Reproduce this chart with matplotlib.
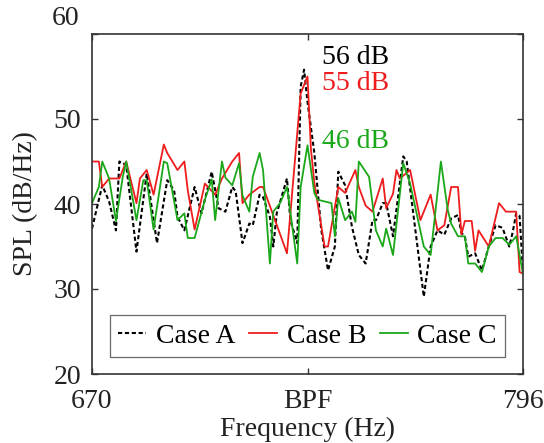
import matplotlib
matplotlib.use('Agg')
import matplotlib.pyplot as plt

# spectra near the blade passing frequency, SPL in dB/Hz
f0 = 670
bpf = 733
f_end = 796

# Case A (baseline)
freq_a = [0, 3, 5, 7, 8, 10, 13, 16, 19, 22, 24, 25, 27, 30, 32, 35, 37, 39, 41, 42,
          44, 46, 47, 49, 50, 52, 53, 54, 57, 58, 60, 61, 62, 63, 65, 67, 69, 71, 72,
          74, 76, 78, 80, 82, 83, 85, 86, 88, 91, 92, 97, 99, 101, 103, 105, 107, 108,
          109, 110, 112, 114, 116, 118, 120, 122, 123, 124, 125, 126]
spl_a = [37.1, 42.2, 40.3, 36.9, 45.0, 44.6, 34.4, 43.6, 35.4, 42.8, 41.6, 38.5, 36.9,
         42.0, 38.9, 43.8, 39.5, 39.1, 42.0, 41.5, 35.4, 37.7, 37.5, 41.1, 40.8, 38.5,
         35.0, 38.9, 43.0, 38.1, 35.4, 53.8, 55.8, 52.0, 46.0, 37.0, 32.2, 35.0, 43.8,
         42.2, 37.3, 34.0, 33.0, 38.1, 38.1, 40.1, 40.1, 36.2, 45.6, 45.0, 29.1, 35.0,
         36.9, 36.4, 38.3, 38.7, 36.6, 36.2, 33.8, 34.2, 32.2, 35.0, 37.5, 37.2, 35.0,
         36.7, 38.9, 38.6, 32.0]

# Case B
freq_b = [0, 2, 3, 5, 8, 10, 13, 14, 16, 18, 21, 22, 25, 27, 28, 30, 33, 36, 38, 41,
          43, 44, 46, 49, 50, 57, 61, 63, 64, 65, 68, 69, 72, 74, 77, 78, 80, 82, 85,
          86, 88, 89, 90, 93, 96, 99, 101, 103, 105, 107, 108, 109, 111, 112, 113, 116,
          119, 121, 124, 125, 126]
spl_b = [45.0, 45.0, 42.0, 43.0, 43.0, 45.0, 40.1, 43.0, 44.0, 41.1, 47.0, 46.0, 44.0,
         45.0, 41.6, 37.0, 42.4, 41.1, 43.0, 45.0, 46.0, 40.1, 41.1, 42.0, 42.0, 34.2,
         53.0, 55.0, 46.5, 42.5, 35.0, 35.0, 42.0, 41.3, 44.0, 42.0, 39.8, 39.1, 43.0,
         39.5, 41.2, 44.0, 43.0, 44.0, 38.1, 41.1, 36.9, 37.5, 42.0, 42.0, 36.4, 38.0,
         38.0, 34.5, 36.9, 35.0, 40.1, 39.1, 39.1, 32.0, 31.8]

# Case C
freq_c = [0, 2, 3, 5, 7, 9, 10, 13, 15, 16, 18, 21, 22, 25, 27, 28, 30, 33, 35, 36, 38,
          39, 41, 43, 44, 46, 47, 49, 50, 52, 53, 55, 57, 60, 61, 63, 65, 66, 68, 70, 71,
          72, 74, 76, 77, 78, 81, 83, 85, 86, 88, 91, 93, 97, 99, 102, 104, 105, 107,
          109, 110, 112, 114, 116, 118, 120, 122, 124, 126]
spl_c = [40.1, 42.0, 45.0, 43.0, 38.0, 43.2, 45.0, 38.1, 42.8, 42.8, 37.0, 45.0, 44.8,
         38.1, 38.9, 36.0, 36.0, 40.5, 42.9, 38.1, 45.0, 43.1, 42.2, 44.8, 41.0, 39.1,
         43.2, 46.0, 44.0, 33.0, 39.1, 40.1, 42.0, 33.0, 42.0, 46.9, 41.3, 40.5, 40.3,
         40.1, 36.2, 40.7, 38.1, 39.1, 37.9, 45.0, 43.2, 36.9, 35.0, 37.1, 34.0, 44.8,
         42.4, 35.0, 34.0, 45.0, 39.3, 37.7, 36.2, 36.2, 33.0, 33.0, 32.0, 35.0, 36.0,
         36.0, 35.2, 36.2, 31.8]

peaks = [('56 dB', 57.2, 'black'), ('55 dB', 54.2, '#ee1c1c'), ('46 dB', 47.4, '#1aa81a')]

plt.rcParams['font.family'] = ['Liberation Serif', 'DejaVu Serif']
plt.rcParams['font.size'] = 20
txt = '#222222'

fig = plt.figure(figsize=(5.44, 4.43), dpi=100)
ax = fig.add_axes([92 / 544, 69 / 443, 431 / 544, 340 / 443])

fa = [f0 + v for v in freq_a]
fb = [f0 + v for v in freq_b]
fc = [f0 + v for v in freq_c]
ax.plot(fa, spl_a, color='black', lw=1.5, dashes=(2.0, 1.3), label='Case A')
ax.plot(fb, spl_b, color='#ee1c1c', lw=1.3, label='Case B')
ax.plot(fc, spl_c, color='#1aa81a', lw=1.3, label='Case C')

for s, y, c in peaks:
    ax.text(737.2, y, s, color=c, fontsize=20, va='center', ha='left')

ax.set_xlim(f0, f_end)
ax.set_ylim(20, 60)
ax.set_xticks([f0, bpf, f_end])
ax.set_xticklabels(['670', 'BPF', '796'])
ax.set_yticks([20, 30, 40, 50, 60])
ax.set_yticklabels(['20', '30', '40', '50', ''])
# the top label sits a bit above the frame
ax.annotate('60', xy=(0, 60), xycoords=('axes fraction', 'data'),
            xytext=(-9, 11), textcoords='offset points',
            ha='right', va='center', color=txt, fontsize=20)

ax.tick_params(direction='in', length=4, width=1, top=True, right=True,
               colors='#333333', labelcolor=txt, labelsize=20, pad=8)
ax.tick_params(axis='x', pad=11)
for sp in ax.spines.values():
    sp.set_color('#333333')
    sp.set_linewidth(1.2)

ax.set_xlabel('Frequency (Hz)', color=txt, labelpad=2)
ax.set_ylabel('SPL (dB/Hz)', color=txt, labelpad=11)

leg = ax.legend(loc='lower center', ncol=3, frameon=True, fancybox=False,
                handlelength=1.0, handletextpad=0.35, columnspacing=0.5,
                borderpad=0.3, bbox_to_anchor=(0.5, 0.05), fontsize=20,
                borderaxespad=0)
leg.get_frame().set_edgecolor('#444444')
leg.get_frame().set_linewidth(0.9)
for t in leg.get_texts():
    t.set_color('black')

fig.savefig('out.png', dpi=100)
